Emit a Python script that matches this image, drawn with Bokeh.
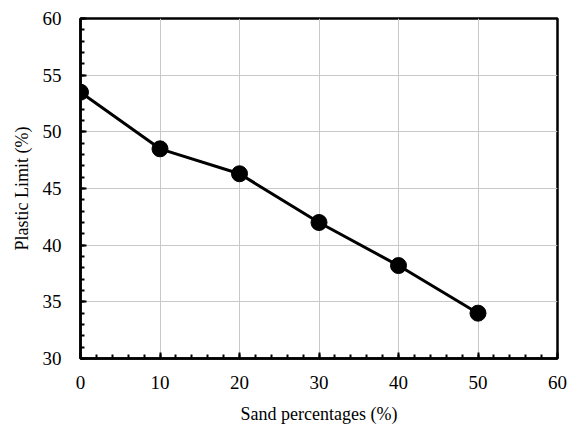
from bokeh.plotting import figure
from bokeh.models import SingleIntervalTicker, Range1d
from bokeh.embed import file_html
from bokeh.resources import INLINE

sand = [0, 10, 20, 30, 40, 50]
plastic_limit = [53.5, 48.5, 46.3, 42.0, 38.2, 34.0]

FONT = "Liberation Serif"

p = figure(width=569, height=430, output_backend="svg", toolbar_location=None,
           x_range=Range1d(0, 60), y_range=Range1d(30, 60),
           min_border_left=80, min_border_right=12, min_border_top=18, min_border_bottom=72)
p.background_fill_color = "white"
p.border_fill_color = "white"
p.outline_line_color = "black"
p.outline_line_width = 2.5

p.xaxis.ticker = SingleIntervalTicker(interval=10, num_minor_ticks=5)
p.yaxis.ticker = SingleIntervalTicker(interval=5, num_minor_ticks=5)

for ax in (p.xaxis, p.yaxis):
    ax.axis_line_color = "black"
    ax.axis_line_width = 2.5
    ax.major_tick_in = 6
    ax.major_tick_out = 0
    ax.minor_tick_in = 4
    ax.minor_tick_out = 0
    ax.major_tick_line_width = 2
    ax.minor_tick_line_width = 2
    ax.major_tick_line_color = "black"
    ax.minor_tick_line_color = "black"
    ax.major_label_text_font = FONT
    ax.major_label_text_font_size = "19px"
    ax.major_label_text_color = "black"
    ax.axis_label_text_font = FONT
    ax.axis_label_text_font_size = "18px"
    ax.axis_label_text_font_style = "normal"
    ax.axis_label_text_color = "black"

p.xaxis.major_label_standoff = 17
p.yaxis.major_label_standoff = 19
p.xaxis.axis_label = "Sand percentages (%)"
p.yaxis.axis_label = "Plastic Limit (%)"
p.xaxis.axis_label_standoff = 12
p.yaxis.axis_label_standoff = 8

p.xgrid.grid_line_color = "#c8c8c8"
p.ygrid.grid_line_color = "#c8c8c8"
p.xgrid.grid_line_width = 1
p.ygrid.grid_line_width = 1

p.line(sand, plastic_limit, line_color="black", line_width=3)
p.scatter(sand, plastic_limit, size=16, fill_color="black", line_color="black")

open("out.html", "w").write(file_html(p, INLINE))
